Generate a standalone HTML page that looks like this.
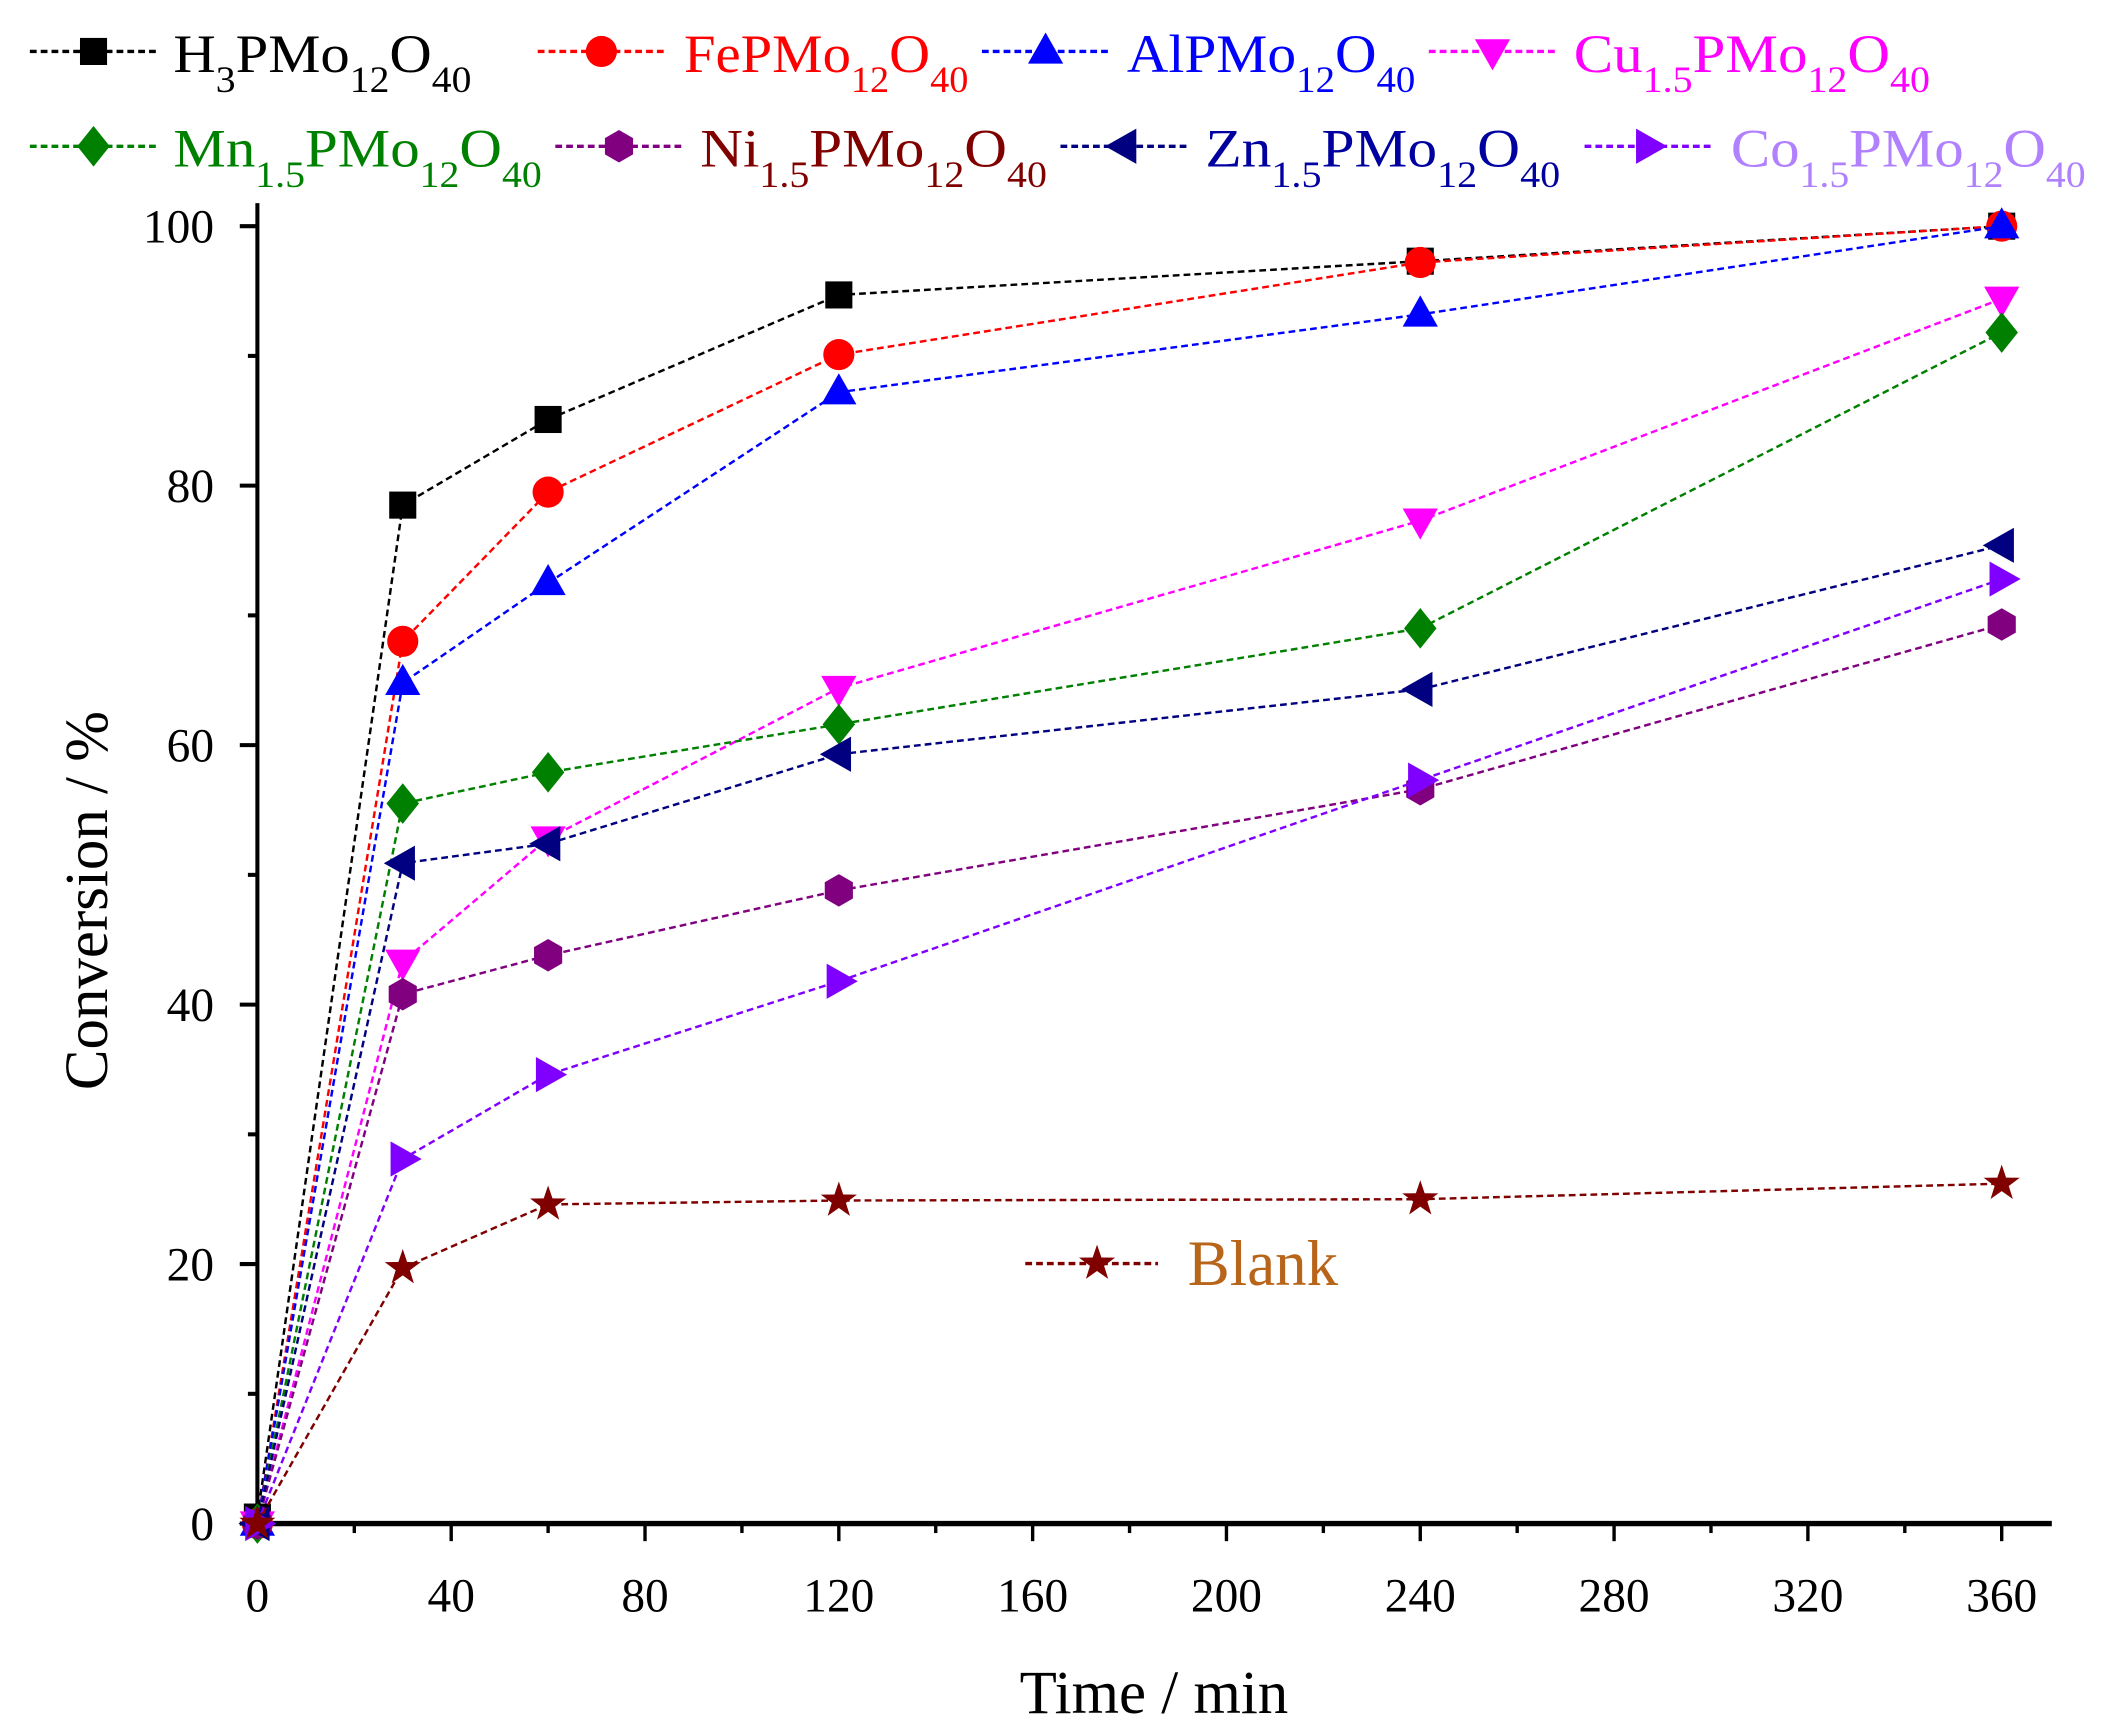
<!DOCTYPE html>
<html><head><meta charset="utf-8"><style>html,body{margin:0;padding:0;background:#fff}svg{display:block}text{font-family:"Liberation Serif",serif}</style></head>
<body>
<svg id="chart" width="2102" height="1724" viewBox="0 0 1552 1273" xmlns="http://www.w3.org/2000/svg">
<g id="axes"></g>
<g id="series"></g>
<g id="legend"></g>
</svg>
<script>
const times = [0, 30, 60, 120, 240, 360];
const h3Values = [0.5, 78.5, 85.1, 94.7, 97.3, 100];
const feValues = [0, 68.0, 79.5, 90.1, 97.2, 100];
const alValues = [0, 64.8, 72.5, 87.2, 93.2, 100];
const cuValues = [0, 43.3, 52.8, 64.4, 77.3, 94.4];
const mnValues = [0, 55.5, 57.9, 61.6, 69.0, 91.8];
const niValues = [0, 40.8, 43.8, 48.8, 56.6, 69.3];
const znValues = [0, 50.9, 52.4, 59.3, 64.3, 75.4];
const coValues = [0, 28.1, 34.6, 41.8, 57.3, 72.8];
const blankValues = [0, 19.7, 24.6, 24.9, 25.0, 26.2];
const xTicks = [0, 40, 80, 120, 160, 200, 240, 280, 320, 360];
const yTicks = [0, 20, 40, 60, 80, 100];

const NS = "http://www.w3.org/2000/svg";
const X0 = 190, X1 = 1478, Y0 = 1125, Y1 = 167;
const xs = v => X0 + (v / 360) * (X1 - X0);
const ys = v => Y0 - (v / 100) * (Y0 - Y1);
function mk(tag, attrs, parent) {
  const e = document.createElementNS(NS, tag);
  for (const k in attrs) e.setAttribute(k, attrs[k]);
  parent.appendChild(e);
  return e;
}
const axes = document.getElementById('axes');
const seriesG = document.getElementById('series');
const legend = document.getElementById('legend');

let ax = mk('line', {x1: X0, y1: Y0, x2: 1515, y2: Y0, stroke: '#000', 'stroke-width': 4}, axes);


let ay = mk('line', {x1: X0, y1: Y0 + 2, x2: X0, y2: 150, stroke: '#000', 'stroke-width': 3}, axes);


for (let v = 0; v <= 360; v += 20) {
  const major = v % 40 === 0;
  const t = mk('line', {x1: xs(v), y1: Y0, x2: xs(v), y2: Y0 + (major ? 13 : 7), stroke: '#000', 'stroke-width': 2.5}, axes);
  
  
}
xTicks.forEach(v => {
  const t = mk('text', {x: xs(v), y: 1190, 'font-size': 35, 'text-anchor': 'middle'}, axes);
  t.textContent = v;
  
  
});
for (let v = 0; v <= 100; v += 10) {
  const major = v % 20 === 0;
  const t = mk('line', {x1: X0, y1: ys(v), x2: X0 - (major ? 13 : 7), y2: ys(v), stroke: '#000', 'stroke-width': 3}, axes);
  
  
}
yTicks.forEach(v => {
  const t = mk('text', {x: 158, y: ys(v) + 12, 'font-size': 35, 'text-anchor': 'end'}, axes);
  t.textContent = v;
  
  
});
let xt = mk('text', {x: 852, y: 1265, 'font-size': 45, 'text-anchor': 'middle'}, axes);
xt.textContent = 'Time / min';


let yt = mk('text', {x: 0, y: 0, 'font-size': 45, 'text-anchor': 'middle', transform: 'translate(79,665) rotate(-90)'}, axes);
yt.textContent = 'Conversion / %';



function marker(shape, x, y, color, parent) {
  let e;
  if (shape === 'square') e = mk('rect', {x: x - 10, y: y - 10, width: 20, height: 20, fill: color}, parent);
  else if (shape === 'circle') e = mk('circle', {cx: x, cy: y, r: 11.5, fill: color}, parent);
  else {
    let pts;
    if (shape === 'up') pts = [[x, y - 14], [x + 13, y + 9], [x - 13, y + 9]];
    else if (shape === 'down') pts = [[x, y + 14], [x + 13, y - 9], [x - 13, y - 9]];
    else if (shape === 'diamond') pts = [[x, y - 15], [x + 12, y], [x, y + 15], [x - 12, y]];
    else if (shape === 'hex') pts = [0, 1, 2, 3, 4, 5].map(i => [x + 12 * Math.cos(Math.PI / 3 * i + Math.PI / 6), y + 12 * Math.sin(Math.PI / 3 * i + Math.PI / 6)]);
    else if (shape === 'left') pts = [[x - 14, y], [x + 9, y - 13], [x + 9, y + 13]];
    else if (shape === 'right') pts = [[x + 14, y], [x - 9, y - 13], [x - 9, y + 13]];
    else if (shape === 'star') pts = [...Array(10).keys()].map(i => { const r = i % 2 ? 5.5 : 14; const a = -Math.PI / 2 + i * Math.PI / 5; return [x + r * Math.cos(a), y + r * Math.sin(a)]; });
    e = mk('polygon', {points: pts.map(p => p.join(',')).join(' '), fill: color}, parent);
  }
  return e;
}

const defs = [
  {name: 'h3', vals: h3Values, color: '#000000', shape: 'square'},
  {name: 'fe', vals: feValues, color: '#ff0000', shape: 'circle'},
  {name: 'al', vals: alValues, color: '#0000ff', shape: 'up'},
  {name: 'cu', vals: cuValues, color: '#ff00ff', shape: 'down'},
  {name: 'mn', vals: mnValues, color: '#008000', shape: 'diamond'},
  {name: 'ni', vals: niValues, color: '#800080', shape: 'hex'},
  {name: 'zn', vals: znValues, color: '#000080', shape: 'left'},
  {name: 'co', vals: coValues, color: '#8000ff', shape: 'right'},
  {name: 'blank', vals: blankValues, color: '#800000', shape: 'star'}
];
defs.forEach(d => {
  const g = mk('g', {}, seriesG);
  
  
  const pl = mk('polyline', {points: times.map((t, i) => xs(t) + ',' + ys(d.vals[i])).join(' '), fill: 'none', stroke: d.color, 'stroke-width': 1.8, 'stroke-dasharray': '5,3'}, g);
  
  
  times.forEach((t, i) => {
    const m = marker(d.shape, xs(t), ys(d.vals[i]), d.color, g);
    
    
  });
});

const leg = [
  {i: 0, lx: 22, ty: 38, tx: 128, tend: 348, col: '#000', parts: [['H', 0], ['3', 1], ['PMo', 0], ['12', 1], ['O', 0], ['40', 1]]},
  {i: 1, lx: 397, ty: 38, tx: 505, tend: 715, col: '#ff0000', parts: [['FePMo', 0], ['12', 1], ['O', 0], ['40', 1]]},
  {i: 2, lx: 725, ty: 38, tx: 832, tend: 1045, col: '#0000ff', parts: [['AlPMo', 0], ['12', 1], ['O', 0], ['40', 1]]},
  {i: 3, lx: 1055, ty: 38, tx: 1162, tend: 1425, col: '#ff00ff', parts: [['Cu', 0], ['1.5', 1], ['PMo', 0], ['12', 1], ['O', 0], ['40', 1]]},
  {i: 4, lx: 22, ty: 108, tx: 128, tend: 400, col: '#008000', parts: [['Mn', 0], ['1.5', 1], ['PMo', 0], ['12', 1], ['O', 0], ['40', 1]]},
  {i: 5, lx: 410, ty: 108, tx: 517, tend: 773, col: '#800000', parts: [['Ni', 0], ['1.5', 1], ['PMo', 0], ['12', 1], ['O', 0], ['40', 1]]},
  {i: 6, lx: 783, ty: 108, tx: 890, tend: 1152, col: '#0000a0', parts: [['Zn', 0], ['1.5', 1], ['PMo', 0], ['12', 1], ['O', 0], ['40', 1]]},
  {i: 7, lx: 1170, ty: 108, tx: 1278, tend: 1540, col: '#b080ff', parts: [['Co', 0], ['1.5', 1], ['PMo', 0], ['12', 1], ['O', 0], ['40', 1]]}
];
leg.forEach(l => {
  const d = defs[l.i];
  const g = mk('g', {}, legend);
  
  
  mk('line', {x1: l.lx, y1: l.ty, x2: l.lx + 96, y2: l.ty, stroke: d.color, 'stroke-width': 2.5, 'stroke-dasharray': '5,3'}, g);
  marker(d.shape, l.lx + 47, l.ty, d.color, g);
  const t = mk('text', {x: l.tx, y: l.ty + 15, 'font-size': 40, fill: l.col, textLength: l.tend - l.tx, lengthAdjust: 'spacingAndGlyphs'}, g);
  let cur = 0;
  l.parts.forEach(p => {
    const ts = mk('tspan', {dy: (p[1] ? 15 : 0) - cur}, t);
    if (p[1]) ts.setAttribute('font-size', 27);
    cur = p[1] ? 15 : 0;
    ts.textContent = p[0];
  });
});
const bg = mk('g', {}, legend);


mk('line', {x1: 757, y1: 933, x2: 855, y2: 933, stroke: '#800000', 'stroke-width': 2.5, 'stroke-dasharray': '5,3'}, bg);
marker('star', 810, 933, '#800000', bg);
const bt = mk('text', {x: 877, y: 949, 'font-size': 48, fill: '#b8651a', textLength: 111, lengthAdjust: 'spacingAndGlyphs'}, bg);
bt.textContent = 'Blank';
</script>
</body></html>
